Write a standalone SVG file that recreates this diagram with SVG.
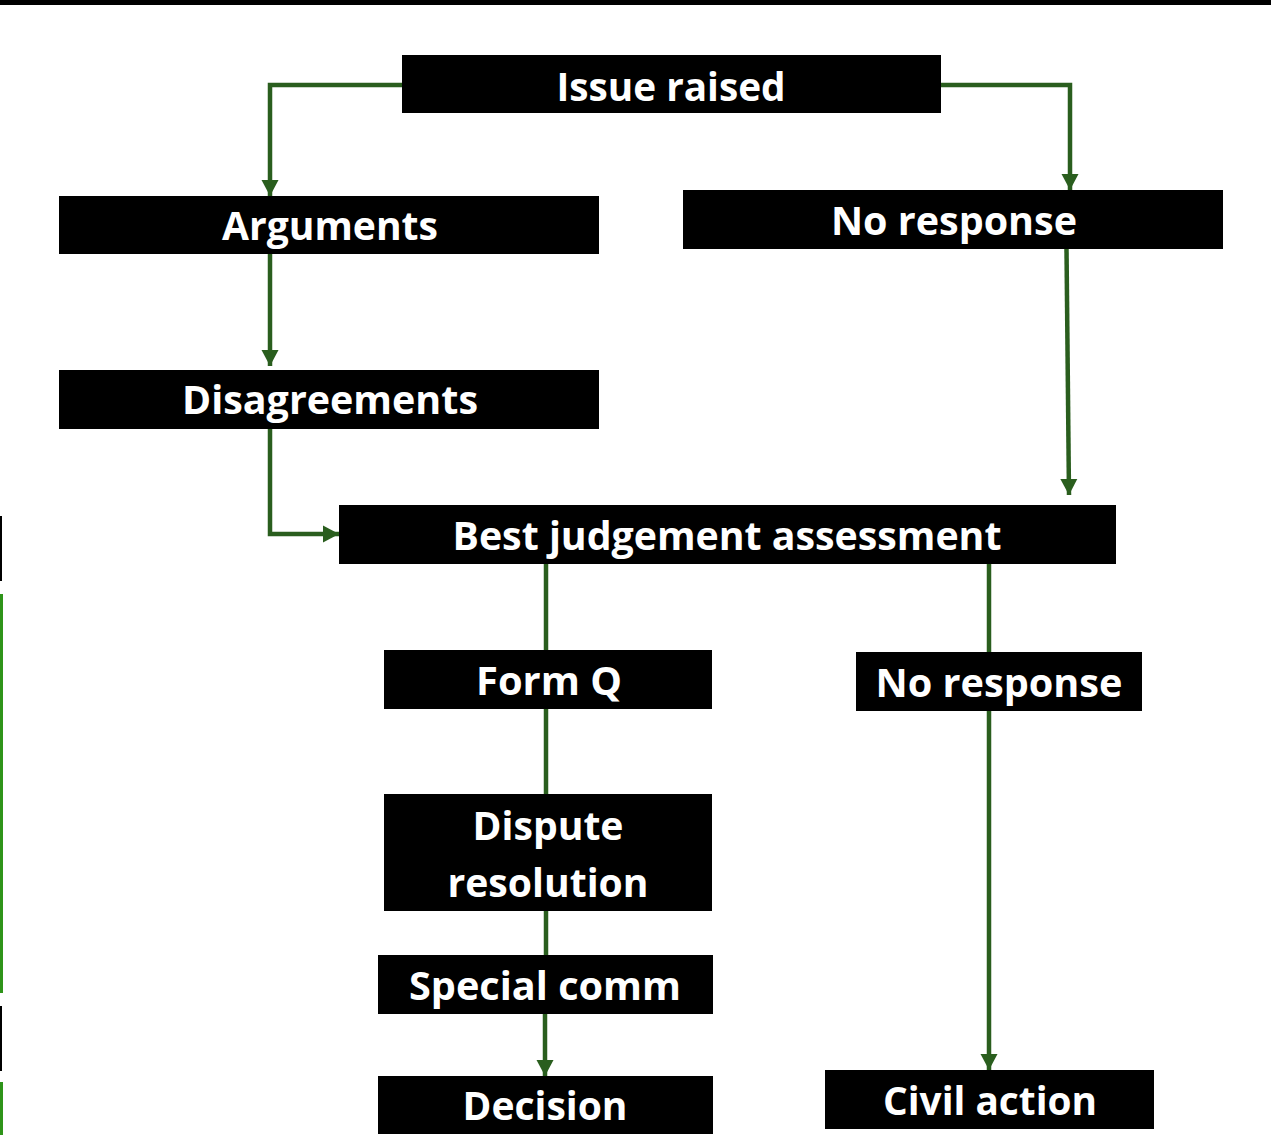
<svg xmlns="http://www.w3.org/2000/svg" width="1274" height="1135" viewBox="0 0 1274 1135">
<style>
.box{fill:#000}
.lbl{fill:#fff;font-family:"Open Sans","Liberation Sans",sans-serif;font-weight:bold;font-size:40px;text-anchor:middle}
.conn{fill:none;stroke:#2a5e1e;stroke-width:4.5;stroke-linejoin:miter}
</style>
<defs>
<marker id="arr" markerUnits="userSpaceOnUse" markerWidth="20" markerHeight="20" viewBox="0 0 20 20" refX="16" refY="10" orient="auto">
<path d="M0,1.5 L16,10 L0,18.5 Z" fill="#2a5e1e"/>
</marker>
</defs>
<rect x="0" y="0" width="1271" height="5" fill="#000"/>
<g id="edge-marks">
<rect x="0" y="516" width="2" height="65" fill="#000"/>
<rect x="0" y="594" width="3" height="399" fill="#2e9419"/>
<rect x="0" y="1006" width="2" height="65" fill="#000"/>
<rect x="0" y="1082" width="3" height="53" fill="#2e9419"/>
</g>
<g id="connectors">
<path class="conn" d="M402,85 H270 V196" marker-end="url(#arr)"/>
<path class="conn" d="M941,85 H1070 V190" marker-end="url(#arr)"/>
<path class="conn" d="M270,254 V366" marker-end="url(#arr)"/>
<path class="conn" d="M1066.5,249 L1069,495" marker-end="url(#arr)"/>
<path class="conn" d="M270,429 V534 H339" marker-end="url(#arr)"/>
<path class="conn" d="M546,564 V650"/>
<path class="conn" d="M546,709 V794"/>
<path class="conn" d="M546,911 V955"/>
<path class="conn" d="M545,1014 V1076" marker-end="url(#arr)"/>
<path class="conn" d="M989,564 V652"/>
<path class="conn" d="M989,711 V1070" marker-end="url(#arr)"/>
</g>
<g id="issue-raised"><rect class="box" x="402" y="55" width="539" height="58"/><text class="lbl" x="671" y="101" textLength="229" lengthAdjust="spacingAndGlyphs">Issue raised</text></g>
<g id="arguments"><rect class="box" x="59" y="196" width="540" height="58"/><text class="lbl" x="330" y="240" textLength="216" lengthAdjust="spacingAndGlyphs">Arguments</text></g>
<g id="no-response-1"><rect class="box" x="683" y="190" width="540" height="59"/><text class="lbl" x="954" y="235" textLength="246" lengthAdjust="spacingAndGlyphs">No response</text></g>
<g id="disagreements"><rect class="box" x="59" y="370" width="540" height="59"/><text class="lbl" x="330" y="414" textLength="296" lengthAdjust="spacingAndGlyphs">Disagreements</text></g>
<g id="best-judgement"><rect class="box" x="339" y="505" width="777" height="59"/><text class="lbl" x="727" y="550" textLength="549" lengthAdjust="spacingAndGlyphs">Best judgement assessment</text></g>
<g id="form-q"><rect class="box" x="384" y="650" width="328" height="59"/><text class="lbl" x="549" y="695" textLength="146" lengthAdjust="spacingAndGlyphs">Form Q</text></g>
<g id="no-response-2"><rect class="box" x="856" y="652" width="286" height="59"/><text class="lbl" x="999" y="697" textLength="247" lengthAdjust="spacingAndGlyphs">No response</text></g>
<g id="dispute-resolution"><rect class="box" x="384" y="794" width="328" height="117"/><text class="lbl" x="548" y="840" textLength="151" lengthAdjust="spacingAndGlyphs">Dispute</text><text class="lbl" x="548" y="897" textLength="201" lengthAdjust="spacingAndGlyphs">resolution</text></g>
<g id="special-comm"><rect class="box" x="378" y="955" width="335" height="59"/><text class="lbl" x="545" y="1000" textLength="272" lengthAdjust="spacingAndGlyphs">Special comm</text></g>
<g id="decision"><rect class="box" x="378" y="1076" width="335" height="58"/><text class="lbl" x="545" y="1120" textLength="165" lengthAdjust="spacingAndGlyphs">Decision</text></g>
<g id="civil-action"><rect class="box" x="825" y="1070" width="329" height="59"/><text class="lbl" x="990" y="1115" textLength="214" lengthAdjust="spacingAndGlyphs">Civil action</text></g>
</svg>
